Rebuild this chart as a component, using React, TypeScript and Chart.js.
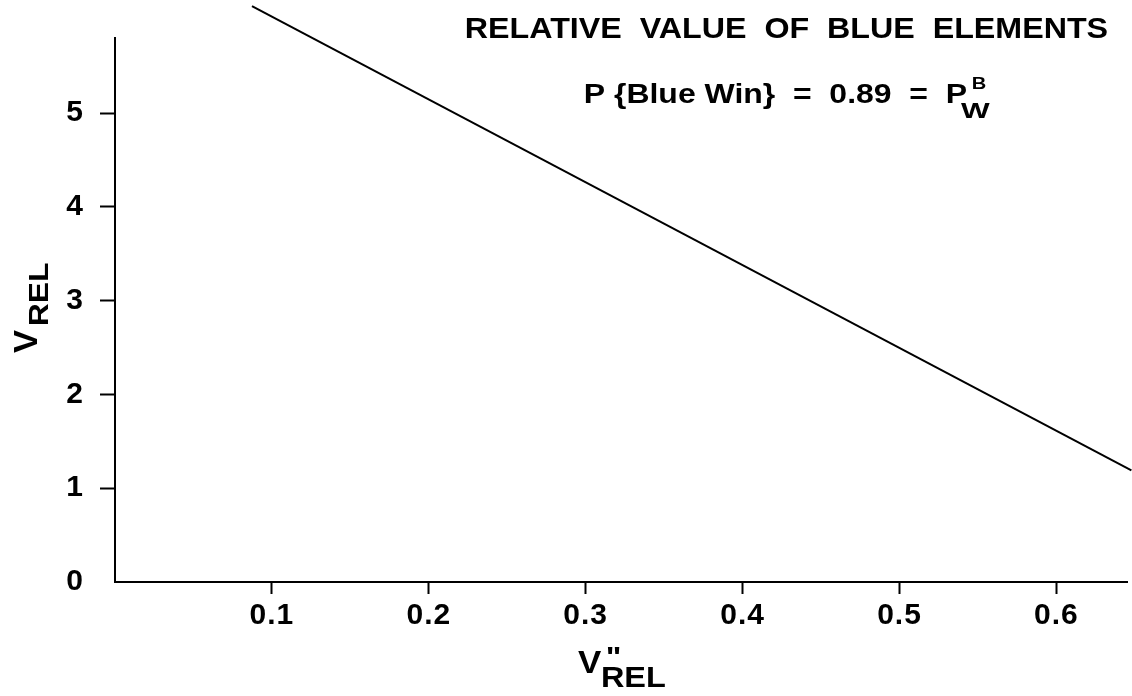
import React, { useEffect, useRef } from "react";
import { Chart, registerables } from "chart.js";

Chart.register(...registerables);

// ---- data ----
const lineX = [0.0873, 0.6478];
const lineY = [6.14, 1.19];
const xTickValues = [0.1, 0.2, 0.3, 0.4, 0.5, 0.6];
const xTickLabels = ["0.1", "0.2", "0.3", "0.4", "0.5", "0.6"];
const yTickValues = [0, 1, 2, 3, 4, 5];
const yTickLabels = ["0", "1", "2", "3", "4", "5"];
const titleText = "RELATIVE  VALUE  OF  BLUE  ELEMENTS";
const subtitleText = "P {Blue Win}  =  0.89  =  P";
const subtitleSub = "W";
const subtitleSup = "B";
const axisMain = "V";
const axisSub = "REL";
const axisPrime = '"';

const FAMILY = '"Liberation Sans", Arial, Helvetica, sans-serif';

function drawFit(
  ctx: CanvasRenderingContext2D,
  text: string,
  x0: number,
  x1: number,
  baseline: number,
  size: number
) {
  ctx.save();
  try {
    (ctx as any).letterSpacing = "0px";
  } catch (e) {}
  ctx.font = `bold ${size}px ${FAMILY}`;
  ctx.textAlign = "left";
  ctx.textBaseline = "alphabetic";
  ctx.fillStyle = "#000";
  const m = ctx.measureText(text);
  const l = m.actualBoundingBoxLeft || 0;
  const r = m.actualBoundingBoxRight || m.width;
  const vis = l + r;
  const sx = (x1 - x0) / vis;
  ctx.translate(x0, baseline);
  ctx.scale(sx, 1);
  ctx.fillText(text, l, 0);
  ctx.restore();
}

const textPlugin = {
  id: "refText",
  beforeDraw(chart: any) {
    try {
      chart.ctx.letterSpacing = "1px";
    } catch (e) {}
  },
  afterDraw(chart: any) {
    const ctx: CanvasRenderingContext2D = chart.ctx;
    try {
      (ctx as any).letterSpacing = "0px";
    } catch (e) {}
    // title
    drawFit(ctx, titleText, 467, 1107, 38, 30);
    // subtitle
    drawFit(ctx, subtitleText, 585, 967, 103, 27);
    drawFit(ctx, subtitleSub, 961, 990, 118, 22);
    drawFit(ctx, subtitleSup, 973, 986, 89, 17);
    // x axis title
    drawFit(ctx, axisMain, 578, 602, 673, 32);
    drawFit(ctx, axisPrime, 607, 620, 666, 28);
    drawFit(ctx, axisSub, 602, 665, 687, 29);
    // y axis title (rotated)
    ctx.save();
    ctx.translate(37, 353);
    ctx.rotate(-Math.PI / 2);
    drawFit(ctx, axisMain, 0, 23, 0, 33);
    ctx.restore();
    ctx.save();
    ctx.translate(48, 325);
    ctx.rotate(-Math.PI / 2);
    drawFit(ctx, axisSub, 0, 62, 0, 27);
    ctx.restore();
  },
};

export default function App() {
  const ref = useRef<HTMLCanvasElement | null>(null);
  useEffect(() => {
    if (!ref.current) return;
    const chart = new Chart(ref.current, {
      type: "scatter",
      data: {
        datasets: [
          {
            data: lineX.map((x, i) => ({ x, y: lineY[i] })),
            showLine: true,
            borderColor: "#000",
            borderWidth: 2,
            pointRadius: 0,
            fill: false,
            clip: false as any,
          },
        ],
      },
      options: {
        animation: false,
        responsive: false,
        devicePixelRatio: 1,
        layout: { padding: { top: 38, right: 5, left: 0, bottom: 0 } },
        plugins: {
          legend: { display: false },
          tooltip: { enabled: false },
          title: { display: false },
        },
        scales: {
          x: {
            type: "linear",
            min: 0,
            max: 0.645,
            afterBuildTicks: (s: any) => {
              s.ticks = xTickValues.map((v) => ({ value: v }));
            },
            afterFit: (s: any) => {
              s.height = 114;
            },
            grid: {
              drawOnChartArea: false,
              drawTicks: true,
              tickLength: 12,
              tickWidth: 2,
              tickColor: "#000",
            },
            border: { display: true, color: "#000", width: 2 },
            ticks: {
              color: "#000",
              font: { family: FAMILY, size: 30, weight: "bold" },
              padding: 4,
              maxRotation: 0,
              autoSkip: false,
              includeBounds: false,
              callback: (_v: any, i: number) => xTickLabels[i],
            },
          },
          y: {
            type: "linear",
            min: 0,
            max: 5.8,
            afterBuildTicks: (s: any) => {
              s.ticks = yTickValues.map((v) => ({ value: v }));
            },
            afterFit: (s: any) => {
              s.width = 115;
            },
            grid: {
              drawOnChartArea: false,
              drawTicks: true,
              tickLength: 15,
              tickWidth: 2,
              tickColor: (c: any) =>
                c.tick && c.tick.value === 0 ? "rgba(0,0,0,0)" : "#000",
            },
            border: { display: true, color: "#000", width: 2 },
            ticks: {
              color: "#000",
              font: { family: FAMILY, size: 30, weight: "bold" },
              padding: 16,
              autoSkip: false,
              includeBounds: false,
              callback: (_v: any, i: number) => yTickLabels[i],
            },
          },
        },
      } as any,
      plugins: [textPlugin],
    });
    return () => chart.destroy();
  }, []);
  return (
    <div style={{ position: "absolute", left: 0, top: 0, width: 1132, height: 696, background: "#fff" }}>
      <canvas ref={ref} width={1132} height={696} style={{ display: "block" }} />
    </div>
  );
}
